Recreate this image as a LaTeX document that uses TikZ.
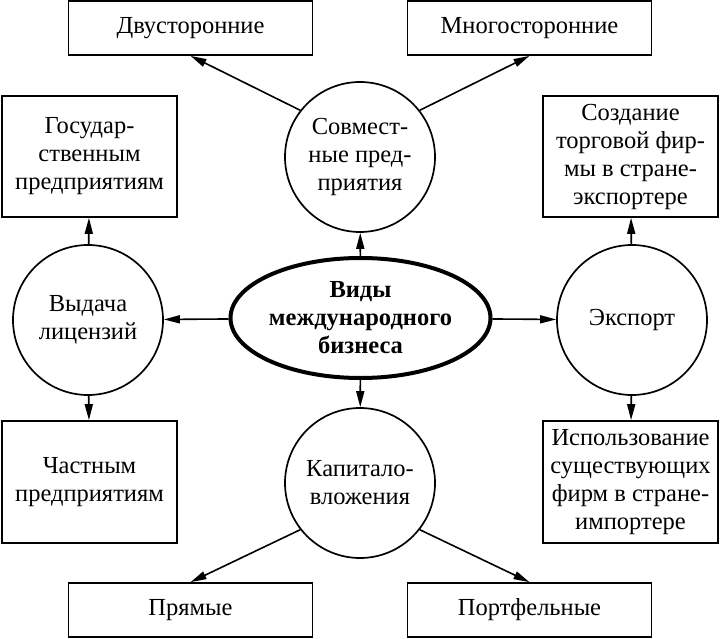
\documentclass[tikz,border=0pt]{standalone}
\usepackage{fontspec}
\setmainfont{Liberation Serif}
\usetikzlibrary{arrows.meta,shapes.geometric}
\begin{document}
\begin{tikzpicture}[x=1pt,y=-1pt,
  every node/.style={font=\fontsize{24.5}{28}\selectfont, align=center, inner sep=0pt},
  box/.style={draw, line width=1.7pt, rectangle},
  wbox/.style={box, minimum width=244pt, minimum height=54pt},
  sbox/.style={box, minimum width=175pt, minimum height=121pt},
  circ/.style={draw, line width=1.7pt, circle, minimum size=150pt},
  arr/.style={line width=1.6pt, -{Triangle[length=16pt,width=8pt]}},
]
\useasboundingbox (0,0) rectangle (720,639);

% central ellipse
\node[draw, ellipse, line width=4pt, minimum width=260pt, minimum height=120pt] (c) at (360.5,318) {\textbf{Виды}\\\textbf{международного}\\\textbf{бизнеса}};

% circles
\node[circ] (sov) at (360,157) {Совмест-\\ные пред-\\приятия};
\node[circ] (vyd) at (88,320) {Выдача\\лицензий};
\node[circ] (exp) at (632,320) {Экспорт};
\node[circ] (kap) at (360,483) {Капитало-\\вложения};

% boxes
\node[wbox] (dvu) at (190.5,28) {Двусторонние};
\node[wbox] (mno) at (529.5,28) {Многосторонние};
\node[wbox] (pry) at (190.5,610) {Прямые};
\node[wbox] (por) at (529.5,610) {Портфельные};
\node[sbox] (gos) at (89.5,156.5) {Государ-\\ственным\\предприятиям};
\node[sbox] (soz) at (630.5,156.5) {Создание\\торговой фир-\\мы в стране-\\экспортере};
\node[sbox, minimum height=122pt] (chas) at (89.5,482) {Частным\\предприятиям};
\node[sbox, minimum height=122pt] (isp) at (630.5,482) {Использование\\существующих\\фирм в стране-\\импортере};

% connectors
\draw[arr] (c) -- (sov);
\draw[arr] (c) -- (kap);
\draw[arr] (c) -- (vyd);
\draw[arr] (c) -- (exp);
\draw[arr] (sov.142) -- (dvu.south);
\draw[arr] (sov.38) -- (mno.south);
\draw[arr] (kap.218) -- (pry.north);
\draw[arr] (kap.322) -- (por.north);
\draw[arr] (vyd) -- (gos);
\draw[arr] (vyd) -- (chas);
\draw[arr] (exp) -- (soz);
\draw[arr] (exp) -- (isp);
\end{tikzpicture}
\end{document}
